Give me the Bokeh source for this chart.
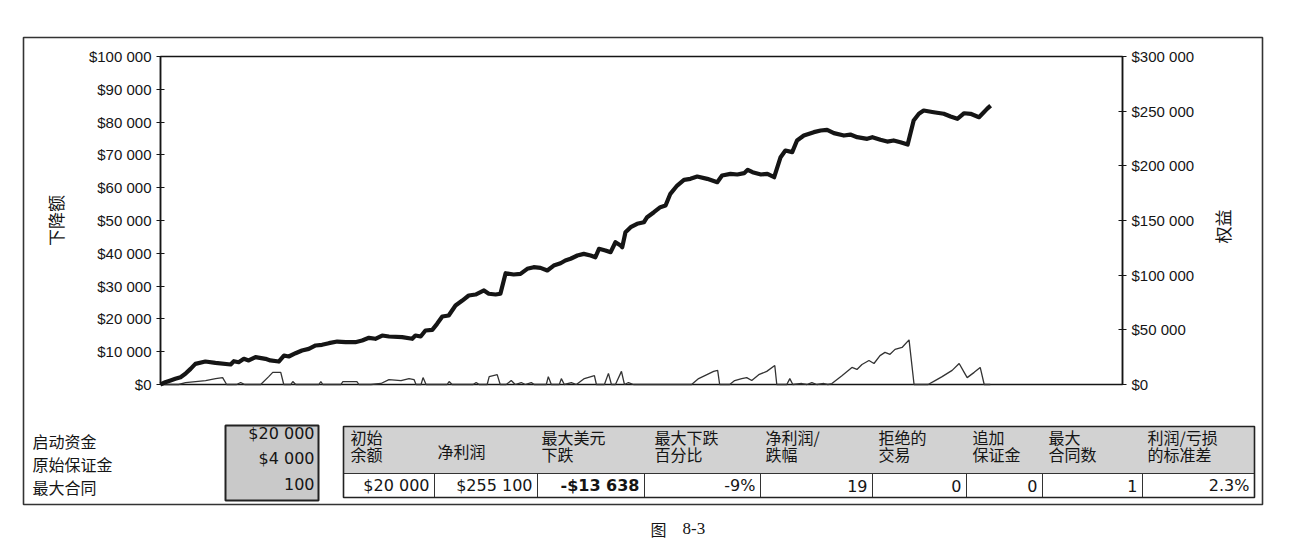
from bokeh.plotting import figure
from bokeh.models import Range1d, LinearAxis, FixedTicker
from bokeh.core.properties import value
from bokeh.embed import file_html
from bokeh.resources import INLINE

# net profit curve (right axis) and drawdown curve (left axis) by period
eq_t = [0, 1.2, 2.5, 3.7, 5, 6.2, 7.5, 8.7, 11.2, 13.7,
        17.5, 18.3, 19.5, 20.8, 22, 23.7, 26.2, 27.4, 29.5, 30.8,
        32, 33.7, 35.3, 37, 38.7, 40.3, 42, 44.1, 46.2, 48.6,
        50.3, 52, 53.6, 55.3, 57, 60.3, 62.8, 63.6, 64.9, 66.1,
        67.8, 69, 70.3, 71.9, 73.6, 75.3, 76.9, 78.6, 80.7, 81.9,
        83.6, 84.8, 86.1, 88.1, 89.8, 91.5, 93.1, 94.8, 96.5, 98.1,
        99.8, 101, 102.3, 104, 105.6, 107.3, 108.5, 109.4, 111, 112.3,
        113.5, 114.8, 115.2, 116, 117.3, 118.9, 120.6, 121.4, 123.1, 124.7,
        126, 127.2, 128.9, 130.6, 132.2, 133.9, 136.4, 138.9, 140.1, 142.2,
        143.9, 145.6, 146.5, 147.7, 149.8, 151.4, 153.1, 154.7, 155.9, 157.6,
        158.8, 160.5, 163, 164.7, 166.3, 168, 170.5, 172.1, 173.8, 176.3,
        177.6, 179.6, 181.3, 182.9, 184.6, 186.4, 187.9, 189.2, 190.4, 192.9,
        195.4, 197.1, 198.8, 200.5, 202.1, 204.2, 205.4, 206.2, 207.1]
eq_v = [0, 2100, 3700, 5200, 6700, 9800, 14300, 18900, 21000, 19800,
        18300, 21300, 20400, 23500, 22000, 25000, 23500, 22000, 21000, 26500,
        25600, 28600, 31100, 32600, 35700, 36300, 37800, 39300, 38700, 38700,
        40200, 42700, 41800, 44800, 43900, 43300, 41800, 44800, 43900, 49400,
        50000, 55500, 62200, 63100, 72300, 76800, 81400, 82300, 86000, 83000,
        82300, 83000, 101800, 100600, 101200, 105800, 107300, 106700, 104300, 108800,
        110900, 113400, 115000, 118000, 119500, 118000, 116400, 124100, 122600, 121000,
        130100, 127100, 125600, 139300, 143900, 147000, 148400, 153000, 157600, 162200,
        163700, 174400, 182000, 187200, 188100, 190200, 188100, 185000, 191200, 192700,
        192100, 193300, 196400, 194200, 192100, 192700, 189600, 207900, 214000, 212500,
        223200, 227700, 230800, 232300, 232900, 229900, 227700, 228600, 226200, 224700,
        226200, 223800, 222200, 223200, 221600, 219500, 241500, 247600, 250600, 249000,
        247600, 245100, 243000, 248100, 247600, 244500, 249000, 252100, 255100]

dd_t = [0, 4.5, 6.25, 8.75, 11.25, 13.75, 15.5, 16.5, 19, 20, 21, 25, 27, 28, 30, 30.75, 32.5,
        33, 33.75, 39.5, 40, 40.5, 45, 45.5, 49, 49.5, 52.5, 55, 57, 60, 62, 63.25, 63.75, 65,
        65.5, 66.25, 71.5, 72, 72.75, 78, 78.75, 79.5, 81.5, 82, 84, 84.75, 86.25, 87.5, 88.5,
        90, 91, 92.5, 93.25, 96.25, 96.75, 97.5, 99.5, 100, 100.75, 102.5, 103.75, 105.75,
        108.25, 108.75, 110.75, 111.75, 112.5, 113.5, 115, 115.75, 116.75, 118, 132.5, 134.25,
        138, 139, 139.5, 142, 143.25, 145, 146.25, 147.5, 149.25, 151.25, 153.25, 153.75,
        156.25, 157, 157.75, 160, 161.25, 162.5, 163.75, 165.5, 166.5, 167.5, 170, 172.5,
        173.75, 175, 176.75, 178, 179.5, 180.75, 182, 183.25, 185, 186.75, 188, 191.5, 193.25,
        195, 197.5, 199.25, 200.5, 201.25, 203, 204.5, 205.5, 207]
dd_v = [0, 0, 600, 900, 1200, 1800, 2100, 0, 0, 600, 0, 0, 2400, 3700, 3700, 0, 0, 900, 0, 0,
        900, 0, 0, 900, 900, 0, 0, 300, 1500, 1200, 1800, 1500, 0, 0, 2100, 0, 0, 900, 0, 0,
        600, 0, 0, 2400, 3000, 0, 0, 1200, 0, 600, 0, 600, 0, 0, 2400, 0, 0, 1800, 0, 600, 0,
        1800, 2700, 0, 0, 3400, 0, 0, 4000, 0, 600, 0, 0, 1800, 4000, 4300, 0, 0, 1200, 1800,
        2100, 1200, 3000, 4000, 5800, 0, 0, 1800, 0, 300, 0, 600, 0, 300, 0, 300, 2700, 5200,
        4600, 6100, 7300, 6400, 8800, 9800, 9200, 10700, 11300, 13600, 0, 0, 1200, 2400, 4300,
        6400, 3700, 2100, 3700, 5200, 0, 0]

dd_ticks = [0, 10000, 20000, 30000, 40000, 50000, 60000, 70000, 80000, 90000, 100000]
eq_ticks = [0, 50000, 100000, 150000, 200000, 250000, 300000]

setup_labels = ["启动资金", "原始保证金", "最大合同"]
setup_values = ["$20 000", "$4 000", "100"]

table_headers = [["初始", "余额"], ["净利润"], ["最大美元", "下跌"], ["最大下跌", "百分比"],
                 ["净利润/", "跌幅"], ["拒绝的", "交易"], ["追加", "保证金"], ["最大", "合同数"],
                 ["利润/亏损", "的标准差"]]
table_values = ["$20 000", "$255 100", "-$13 638", "-9%", "19", "0", "0", "1", "2.3%"]
bold_col = 2


def money(v):
    return "$" + f"{v:,}".replace(",", " ")


# layout (pixels inside the canvas)
W, H = 1296, 543
PL, PR, PT, PB = 160, 1122, 56, 384
X_END = 240
DD_MAX, EQ_MAX = 100000, 300000
sx = (PR - PL) / X_END
sy = (PB - PT) / DD_MAX
k = EQ_MAX / DD_MAX

CJK = "Noto Sans CJK SC"
INK = "#151515"

p = figure(width=W, height=H, output_backend="svg", toolbar_location=None, tools="",
           x_range=Range1d(-PL / sx, X_END + (W - PR) / sx),
           y_range=Range1d(-(H - PB) / sy, DD_MAX + PT / sy),
           x_axis_location=None, y_axis_location=None, min_border=0,
           outline_line_color=None, background_fill_color="white", border_fill_color="white")
p.grid.visible = False
p.extra_y_ranges = {"eq": Range1d(-(H - PB) / sy * k, (DD_MAX + PT / sy) * k),
                    "px": Range1d(H, 0)}
p.extra_x_ranges = {"px": Range1d(0, W)}

# outer box
p.quad(left=23, right=1262, top=37, bottom=504, x_range_name="px", y_range_name="px",
       fill_color=None, line_color="#333333", line_width=1.6)

# chart frame
p.quad(left=0, right=X_END, bottom=0, top=DD_MAX, fill_color=None, line_color=INK, line_width=1.5)

p.line(dd_t, dd_v, line_color="#333333", line_width=1.3)
p.line(eq_t, eq_v, y_range_name="eq", line_color=INK, line_width=4.2, line_join="round")


def style_axis(ax):
    ax.axis_line_color = INK
    ax.axis_line_width = 1.5
    ax.major_tick_in = 4
    ax.major_tick_out = 4
    ax.major_tick_line_color = INK
    ax.major_tick_line_width = 1.2
    ax.minor_tick_line_color = None
    ax.major_label_text_font = "Liberation Sans"
    ax.major_label_text_font_size = "15px"
    ax.major_label_text_color = INK
    ax.major_label_standoff = 5


left = LinearAxis(fixed_location=0, bounds=(0, DD_MAX), ticker=FixedTicker(ticks=dd_ticks),
                  major_label_overrides={t: money(t) for t in dd_ticks},
                  axis_label="下降额", axis_label_text_font=CJK, axis_label_text_font_size="17px",
                  axis_label_text_font_style="normal", axis_label_text_color=INK,
                  axis_label_standoff=18)
style_axis(left)
p.add_layout(left, "left")

right = LinearAxis(y_range_name="eq", fixed_location=X_END, bounds=(0, EQ_MAX),
                   ticker=FixedTicker(ticks=eq_ticks),
                   major_label_overrides={t: money(t) for t in eq_ticks})
style_axis(right)
p.add_layout(right, "right")

p.text(x=[1222], y=[226], text=["权益"], angle=1.5708, x_range_name="px", y_range_name="px",
       text_font=value(CJK), text_font_size="17px", text_color=INK,
       text_align="center", text_baseline="middle")

# setup block
p.text(x=[32] * 3, y=[440, 463, 486], text=setup_labels, x_range_name="px", y_range_name="px",
       text_font=value(CJK), text_font_size="16px", text_color=INK, text_baseline="middle")
p.quad(left=225, right=318, top=425, bottom=500, x_range_name="px", y_range_name="px",
       fill_color="#c9c9c9", line_color="#222222", line_width=2)
p.text(x=[314] * 3, y=[433, 458, 483], text=setup_values, x_range_name="px", y_range_name="px",
       text_font=value("DejaVu Sans"), text_font_size="16px", text_color=INK,
       text_align="right", text_baseline="middle")

# results table
cols = [343, 434, 537, 644, 760, 872, 966, 1042, 1142, 1254]
head_x = [350, 437, 541, 654, 765, 878, 972, 1048, 1147]
T_TOP, T_MID, T_BOT = 426, 473, 497
p.quad(left=cols[0], right=cols[-1], top=T_TOP, bottom=T_MID, x_range_name="px",
       y_range_name="px", fill_color="#d2d2d2", line_color=None)
p.segment(x0=cols[1:-1], y0=[T_MID] * 8, x1=cols[1:-1], y1=[T_BOT] * 8, x_range_name="px",
          y_range_name="px", line_color="#333333", line_width=1)
p.segment(x0=[cols[0]], y0=[T_MID], x1=[cols[-1]], y1=[T_MID], x_range_name="px",
          y_range_name="px", line_color="#333333", line_width=1.2)
p.quad(left=cols[0], right=cols[-1], top=T_TOP, bottom=T_BOT, x_range_name="px",
       y_range_name="px", fill_color=None, line_color="#222222", line_width=1.6)

hx, hy, ht = [], [], []
for i, lines in enumerate(table_headers):
    if len(lines) == 1:
        hx.append(head_x[i]); hy.append(450); ht.append(lines[0])
    else:
        for j, s in enumerate(lines):
            hx.append(head_x[i]); hy.append(436 + 17 * j); ht.append(s)
p.text(x=hx, y=hy, text=ht, x_range_name="px", y_range_name="px", text_font=value(CJK),
       text_font_size="16px", text_color=INK, text_baseline="middle")

vx = [c - 5 for c in cols[1:]]
plain = [i for i in range(len(table_values)) if i != bold_col]
p.text(x=[vx[i] for i in plain], y=[485] * len(plain), text=[table_values[i] for i in plain],
       x_range_name="px", y_range_name="px", text_font=value("DejaVu Sans"),
       text_font_size="16px", text_color=INK, text_align="right", text_baseline="middle")
p.text(x=[vx[bold_col]], y=[485], text=[table_values[bold_col]], x_range_name="px",
       y_range_name="px", text_font=value("DejaVu Sans"), text_font_size="16px",
       text_font_style="bold", text_color=INK, text_align="right", text_baseline="middle")

# caption
p.text(x=[650], y=[528], text=["图"], x_range_name="px", y_range_name="px",
       text_font=value(CJK), text_font_size="16px", text_color=INK, text_baseline="middle")
p.text(x=[682], y=[528], text=["8-3"], x_range_name="px", y_range_name="px",
       text_font=value("Liberation Serif"), text_font_size="17px", text_color=INK,
       text_baseline="middle")

open("out.html", "w").write(file_html(p, INLINE))
